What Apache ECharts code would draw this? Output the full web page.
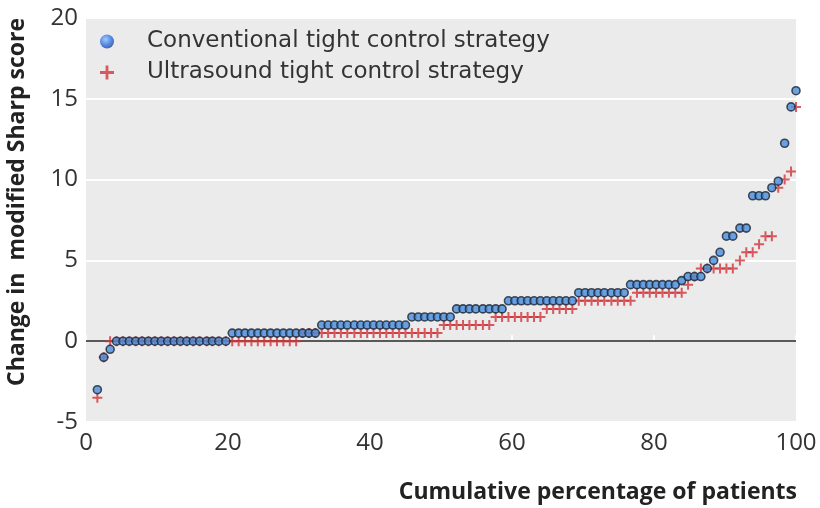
<!DOCTYPE html>
<html>
<head>
<meta charset="utf-8">
<script src="https://cdn.jsdelivr.net/npm/echarts@6/dist/echarts.min.js"></script>
<style>
html,body{margin:0;padding:0;background:#fff;}
#chart{width:820px;height:508px;}
</style>
</head>
<body>
<div id="chart"></div>
<script>
// Cumulative percentage of patients (x position of each ranked patient)
const cumulativePct = [
  1.6, 2.5, 3.4, 4.3, 5.2, 6.1, 7.0, 7.9, 8.8, 9.7,
  10.6, 11.5, 12.4, 13.3, 14.2, 15.1, 16.0, 17.0, 17.8, 18.7,
  19.7, 20.6, 21.5, 22.4, 23.3, 24.2, 25.1, 26.0, 26.9, 27.8,
  28.7, 29.6, 30.5, 31.4, 32.3, 33.2, 34.1, 35.0, 35.9, 36.8,
  37.8, 38.7, 39.6, 40.5, 41.4, 42.3, 43.2, 44.1, 45.0, 45.9,
  46.8, 47.7, 48.6, 49.5, 50.4, 51.3, 52.2, 53.1, 54.0, 54.9,
  55.9, 56.8, 57.7, 58.6, 59.5, 60.4, 61.3, 62.2, 63.1, 64.0,
  64.9, 65.8, 66.7, 67.6, 68.5, 69.4, 70.3, 71.2, 72.1, 73.0,
  74.0, 74.9, 75.8, 76.7, 77.6, 78.5, 79.4, 80.3, 81.2, 82.1,
  83.0, 83.9, 84.8, 85.7, 86.6, 87.5, 88.4, 89.3, 90.2, 91.1,
  92.1, 93.0, 93.9, 94.8, 95.7, 96.6, 97.5, 98.4, 99.3, 100.0
];

// Change in modified Sharp score, conventional tight control (sorted)
const conventionalScores = [
  -3, -1, -0.5, 0, 0, 0, 0, 0, 0, 0,
  0, 0, 0, 0, 0, 0, 0, 0, 0, 0,
  0, 0.5, 0.5, 0.5, 0.5, 0.5, 0.5, 0.5, 0.5, 0.5,
  0.5, 0.5, 0.5, 0.5, 0.5, 1, 1, 1, 1, 1,
  1, 1, 1, 1, 1, 1, 1, 1, 1, 1.5,
  1.5, 1.5, 1.5, 1.5, 1.5, 1.5, 2, 2, 2, 2,
  2, 2, 2, 2, 2.5, 2.5, 2.5, 2.5, 2.5, 2.5,
  2.5, 2.5, 2.5, 2.5, 2.5, 3, 3, 3, 3, 3,
  3, 3, 3, 3.5, 3.5, 3.5, 3.5, 3.5, 3.5, 3.5,
  3.5, 3.75, 4, 4, 4, 4.5, 5, 5.5, 6.5, 6.5,
  7, 7, 9, 9, 9, 9.5, 9.9, 12.25, 14.5, 15.5
];

// Change in modified Sharp score, ultrasound tight control (sorted)
const ultrasoundScores = [
  -3.5, -1, 0, 0, 0, 0, 0, 0, 0, 0,
  0, 0, 0, 0, 0, 0, 0, 0, 0, 0,
  0, 0, 0, 0, 0, 0, 0, 0, 0, 0,
  0, 0, 0.5, 0.5, 0.5, 0.5, 0.5, 0.5, 0.5, 0.5,
  0.5, 0.5, 0.5, 0.5, 0.5, 0.5, 0.5, 0.5, 0.5, 0.5,
  0.5, 0.5, 0.5, 0.5, 1, 1, 1, 1, 1, 1,
  1, 1, 1.5, 1.5, 1.5, 1.5, 1.5, 1.5, 1.5, 1.5,
  2, 2, 2, 2, 2, 2.5, 2.5, 2.5, 2.5, 2.5,
  2.5, 2.5, 2.5, 2.5, 3, 3, 3, 3, 3, 3,
  3, 3, 3.5, 4, 4.5, 4.5, 4.5, 4.5, 4.5, 4.5,
  5, 5.5, 5.5, 6, 6.5, 6.5, 9.5, 10, 10.5, 14.5
];

const xTicks = [0, 20, 40, 60, 80, 100];
const yTicks = [-5, 0, 5, 10, 15, 20];
const seriesNames = ['Conventional tight control strategy', 'Ultrasound tight control strategy'];
const yTitle = 'Change in  modified Sharp score';
const xTitle = 'Cumulative percentage of patients';

const crossPath = 'path://M4,0L6,0L6,4L10,4L10,6L6,6L6,10L4,10L4,6L0,6L0,4L4,4Z';
const tickFont = '"Open Sans", "DejaVu Sans", sans-serif';
const legendFont = '"DejaVu Sans", "Open Sans", sans-serif';

const chart = echarts.init(document.getElementById('chart'), null, {renderer: 'canvas'});

const convData = conventionalScores.map((v, i) => [cumulativePct[i], v]);
const ultraData = ultrasoundScores.map((v, i) => [cumulativePct[i], v]);

chart.setOption({
  animation: false,
  backgroundColor: '#ffffff',
  grid: {
    left: 86, right: 24, top: 18, bottom: 86,
    show: true, backgroundColor: '#ebebeb', borderWidth: 0
  },
  legend: {
    orient: 'vertical',
    left: 95, top: 25,
    itemWidth: 14, itemHeight: 14,
    itemGap: 8,
    textStyle: {
      fontFamily: legendFont, fontSize: 23, color: '#333', fontWeight: 'normal',
      lineHeight: 22, padding: [0, 0, 0, 28]
    },
    data: [
      {name: seriesNames[0], icon: 'circle',
       itemStyle: {color: {type: 'radial', x: 0.4, y: 0.35, r: 0.7,
         colorStops: [{offset: 0, color: '#8cc0ff'}, {offset: 0.6, color: '#2f6fe0'}, {offset: 1, color: '#1a3f8a'}]},
         borderWidth: 0}},
      {name: seriesNames[1], icon: crossPath, itemStyle: {color: '#d0343a'}}
    ]
  },
  xAxis: {
    type: 'value', min: 0, max: 100, interval: 20,
    axisLine: {show: false},
    axisTick: {show: true, inside: true, length: 6, lineStyle: {color: '#ffffff', width: 2}},
    splitLine: {show: false},
    axisLabel: {
      fontFamily: tickFont, fontSize: 24, color: '#333', margin: 9,
      formatter: v => xTicks.includes(v) ? String(v) : ''
    }
  },
  yAxis: {
    type: 'value', min: -5, max: 20, interval: 5,
    axisLine: {show: false},
    axisTick: {show: false},
    splitLine: {show: true, lineStyle: {color: '#ffffff', width: 2}},
    axisLabel: {
      fontFamily: tickFont, fontSize: 24, color: '#333', margin: 8,
      formatter: v => yTicks.includes(v) ? String(v) : ''
    }
  },
  graphic: [
    {
      type: 'text', right: 23, top: 481,
      style: {
        text: xTitle,
        font: 'bold 23px "Open Sans", "DejaVu Sans", sans-serif',
        fill: '#222'
      }
    },
    {
      type: 'text', x: 17, y: 202, rotation: Math.PI / 2,
      style: {
        text: yTitle,
        font: 'bold 23px "Open Sans", "DejaVu Sans", sans-serif',
        fill: '#222', align: 'center', verticalAlign: 'middle'
      }
    }
  ],
  series: [
    {
      name: seriesNames[1], type: 'scatter', z: 2, clip: false,
      symbol: crossPath, symbolSize: 10,
      itemStyle: {color: '#d0343a'},
      data: ultraData,
      markLine: {
        silent: true, symbol: 'none', z: 1,
        label: {show: false},
        lineStyle: {color: '#222', width: 1.5, type: 'solid'},
        data: [{yAxis: 0}]
      }
    },
    {
      name: seriesNames[0], type: 'scatter', z: 3, clip: false,
      symbol: 'circle', symbolSize: 8,
      itemStyle: {color: '#4a8ddc', borderColor: '#1c2633', borderWidth: 1.6},
      data: convData
    }
  ]
});
</script>
</body>
</html>
